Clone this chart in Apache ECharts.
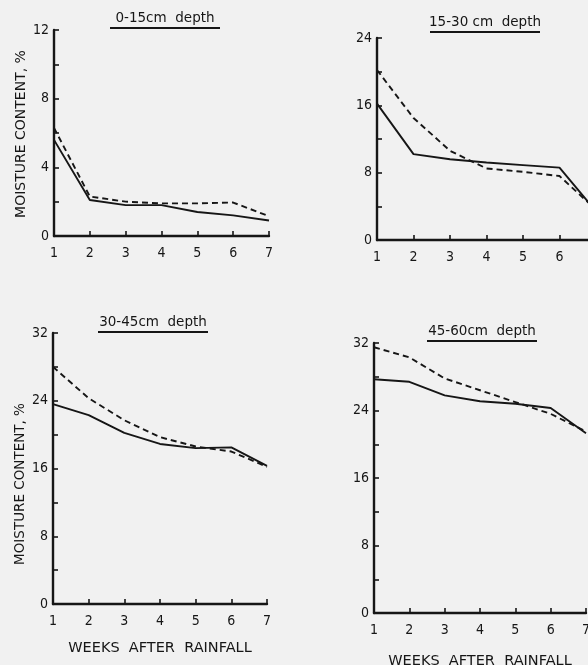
<!DOCTYPE html>
<html>
<head>
<meta charset="utf-8">
<script src="https://cdn.jsdelivr.net/npm/echarts@6/dist/echarts.min.js"></script>
<style>
html,body{margin:0;padding:0;background:#f1f1f1;}
#c{width:588px;height:665px;}
</style>
</head>
<body>
<div id="c"></div>
<script>
// ---- data ----
var weeks = [1, 2, 3, 4, 5, 6, 7];
var panelTitles = ['0-15cm  depth', '15-30 cm  depth', '30-45cm  depth', '45-60cm  depth'];
var yLabel = 'MOISTURE CONTENT, %';
var xLabel = 'WEEKS  AFTER  RAINFALL';
var depth0to15Solid  = [5.6, 2.1, 1.8, 1.8, 1.4, 1.2, 0.9];
var depth0to15Dashed = [6.3, 2.3, 2.0, 1.9, 1.9, 1.95, 1.15];
var depth15to30Solid  = [16.2, 10.2, 9.6, 9.2, 8.9, 8.6, 3.4];
var depth15to30Dashed = [20.2, 14.5, 10.6, 8.5, 8.1, 7.6, 3.6];
var depth30to45Solid  = [23.6, 22.3, 20.2, 18.9, 18.4, 18.5, 16.3];
var depth30to45Dashed = [28.0, 24.3, 21.7, 19.7, 18.6, 18.0, 16.2];
var depth45to60Solid  = [27.7, 27.4, 25.8, 25.1, 24.8, 24.3, 21.3];
var depth45to60Dashed = [31.5, 30.3, 27.8, 26.4, 25.0, 23.6, 21.5];
var yMax = [12, 24, 32, 32];
var yTickStep = [2, 4, 4, 4];
var yLabelStep = [4, 8, 8, 8];

// ---- layout ----
var grids = [
  {left: 54, top: 30, width: 215, height: 206},
  {left: 377, top: 38, width: 219, height: 202},
  {left: 53, top: 333, width: 214, height: 271},
  {left: 374, top: 343, width: 212, height: 270}
];
var xNameGap = [38, 38, 37, 41];
var solids = [depth0to15Solid, depth15to30Solid, depth30to45Solid, depth45to60Solid];
var dashes = [depth0to15Dashed, depth15to30Dashed, depth30to45Dashed, depth45to60Dashed];
var ink = '#161616';
var font = 'DejaVu Sans';
var tickFont = '"DejaVu Sans Condensed", "Liberation Sans Narrow", "DejaVu Sans"';

function pairs(vals) {
  return weeks.map(function (w, i) { return [w, vals[i]]; });
}

var xAxes = [], yAxes = [], series = [];
grids.forEach(function (g, i) {
  g.outerBoundsMode = 'none';
  xAxes.push({
    type: 'value', gridIndex: i, min: 1, max: 7, interval: 1,
    name: (i >= 2 ? xLabel : ''), nameLocation: 'middle', nameGap: xNameGap[i],
    nameTextStyle: {color: ink, fontFamily: font, fontSize: 14.5},
    splitLine: {show: false},
    axisLine: {lineStyle: {color: ink, width: 2.4}},
    axisTick: {inside: true, length: 5, lineStyle: {color: ink, width: 1.6}},
    axisLabel: {color: ink, fontFamily: tickFont, fontSize: 14, margin: 10,
      formatter: function (v) { return weeks.indexOf(v) >= 0 ? String(v) : ''; }}
  });
  var step = yLabelStep[i];
  yAxes.push({
    type: 'value', gridIndex: i, min: 0, max: yMax[i], interval: yTickStep[i],
    splitLine: {show: false},
    axisLine: {show: true, lineStyle: {color: ink, width: 2.4}},
    axisTick: {show: true, inside: true, length: 5, lineStyle: {color: ink, width: 1.6}},
    axisLabel: {color: ink, fontFamily: tickFont, fontSize: 14, margin: 5,
      formatter: function (v) { return v % step === 0 ? String(v) : ''; }}
  });
  series.push({
    type: 'line', xAxisIndex: i, yAxisIndex: i, data: pairs(solids[i]),
    symbol: 'none', smooth: false, clip: false,
    lineStyle: {color: ink, width: 1.9, type: 'solid'}
  });
  series.push({
    type: 'line', xAxisIndex: i, yAxisIndex: i, data: pairs(dashes[i]),
    symbol: 'none', smooth: false, clip: false,
    lineStyle: {color: ink, width: 1.9, type: [6, 4]}
  });
});

// titles (underlined) and y-axis names
var titlePos = [[165, 18], [485, 22], [153, 322], [482, 331]];
var g2 = [];
titlePos.forEach(function (p, i) {
  g2.push({type: 'text', x: p[0], y: p[1],
    style: {text: panelTitles[i], fill: ink, font: '13.5px "' + font + '"', align: 'center', verticalAlign: 'middle'}});
  g2.push({type: 'line', x: 0, y: 0,
    shape: {x1: p[0] - 55, y1: p[1] + 10, x2: p[0] + 55, y2: p[1] + 10},
    style: {stroke: ink, lineWidth: 2}});
});
g2.push({type: 'text', x: 21, y: 134, rotation: Math.PI / 2,
  style: {text: yLabel, fill: ink, font: '14px "' + font + '"', align: 'center', verticalAlign: 'middle'}});
g2.push({type: 'text', x: 20, y: 484, rotation: Math.PI / 2,
  style: {text: yLabel, fill: ink, font: '13.5px "' + font + '"', align: 'center', verticalAlign: 'middle'}});

var opt = {
  backgroundColor: '#f1f1f1',
  animation: false,
  grid: grids,
  xAxis: xAxes,
  yAxis: yAxes,
  series: series,
  graphic: g2
};

var chart = echarts.init(document.getElementById('c'), null, {renderer: 'canvas'});
chart.setOption(opt);
</script>
</body>
</html>
